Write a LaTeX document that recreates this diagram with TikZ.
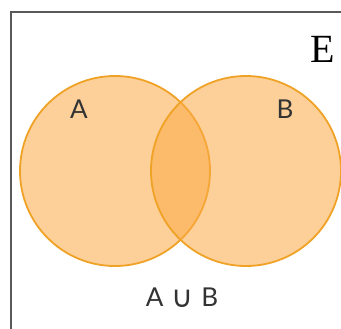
\documentclass[tikz,border=0pt]{standalone}
\usepackage{fontspec}
\newfontfamily\lab{Lato}
\newfontfamily\symf{DejaVu Sans}
\newfontfamily\serf{Liberation Serif}
\definecolor{setstroke}{RGB}{240,162,38}
\definecolor{setfill}{RGB}{252,170,70}
\begin{document}
\begin{tikzpicture}[x=1pt,y=-1pt,
  setcircle/.style={draw=setstroke, line width=1.8pt, fill=setfill, fill opacity=0.55},
  setlabel/.style={font=\lab\fontsize{26}{26}\selectfont, text=black!80, inner sep=0pt},
  frameline/.style={draw=black!65, line width=1.5pt}]
\useasboundingbox (0,0) rectangle (341,329);
\fill[white] (0,0) rectangle (341,329);
\begin{scope}
\clip (0,0) rectangle (341,329);
\draw[frameline] (11,12) rectangle (360,350);
\end{scope}
\path[setcircle] (115,171) circle[radius=95];
\path[setcircle] (246,171) circle[radius=95];
\node[setlabel] (a) at (79,109) {A};
\node[setlabel] (b) at (285,109) {B};
\node[font=\serf\fontsize{40}{40}\selectfont, inner sep=0pt] (e) at (323,49) {E};
\node[setlabel] (u) at (182,298) {A\hspace{8pt}{\symf\fontsize{30}{30}\selectfont\raisebox{-1pt}{∪}}\hspace{8pt}B};
\end{tikzpicture}
\end{document}
